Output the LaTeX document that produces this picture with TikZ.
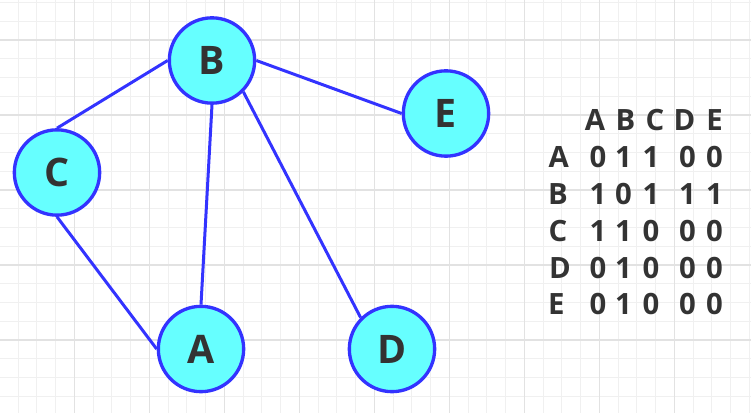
\documentclass[tikz,border=0pt]{standalone}
\usepackage{fontspec}
\setmainfont{Open Sans}
\usepackage{tikz}

\definecolor{nodecyan}{HTML}{66FFFF}
\definecolor{edgeblue}{HTML}{3333FF}
\definecolor{textgray}{HTML}{333333}
\definecolor{minorgrid}{HTML}{F0F0F0}
\definecolor{majorgrid}{HTML}{E2E2E2}

\tikzset{
  vertex/.style={circle, draw=edgeblue, fill=nodecyan, line width=2.5pt,
    minimum size=64pt, inner sep=0pt, text=textgray,
    font=\fontsize{29.5}{30}\selectfont\bfseries},
  edge/.style={draw=edgeblue, line width=2.25pt},
  cell/.style={anchor=base, inner sep=0pt, text=textgray,
    font=\fontsize{22}{24}\selectfont\bfseries},
}

\begin{document}
\begin{tikzpicture}[x=0.75pt,y=-0.75pt]

 \useasboundingbox (0,0) rectangle (751,413);
 \fill[white] (0,0) rectangle (751,413);
 % grid paper
 \foreach \k in {1,...,40} \draw[minorgrid, line width=0.75pt] ({-0.75+18.75*\k},0) -- ({-0.75+18.75*\k},413);
 \foreach \k in {0,...,21} \draw[minorgrid, line width=0.75pt] (0,{2.5+18.75*\k}) -- (751,{2.5+18.75*\k});
 \foreach \k in {1,...,9} \draw[majorgrid, line width=0.9pt] ({-0.75+75*\k},0) -- ({-0.75+75*\k},413);
 \foreach \k in {0,...,4} \draw[majorgrid, line width=0.9pt] (0,{40+75*\k}) -- (751,{40+75*\k});

 % the graph
 \node[vertex] (B) at (212,60.5) {B};
 \node[vertex] (C) at (57,172.5) {C};
 \node[vertex] (E) at (446,113.5) {E};
 \node[vertex] (A) at (201,349) {A};
 \node[vertex] (D) at (392,349) {D};

 \draw[edge] (B.west) -- (C.north);
 \draw[edge] (B.east) -- (E.west);
 \draw[edge] (B.south) -- (A.north);
 \draw[edge] (B.south east) -- (D.north west);
 \draw[edge] (C.south) -- (A.west);

 % adjacency matrix
 \foreach \h/\x [count=\j] in {A/595,B/625.5,C/655,D/684.5,E/714.5}
  \node[cell] (h\j) at (\x,131) {\h};
 \foreach \name/\lx/\vals [count=\i] in {A/558.8/{0,1,1,0,0}, B/558/{1,0,1,1,1},
   C/558/{1,1,0,0,0}, D/560/{0,1,0,0,0}, E/556.3/{0,1,0,0,0}} {
  \node[cell] (r\i) at (\lx,{131+36.8*\i}) {\name};
  \foreach \v [count=\j] in \vals {
   \pgfmathsetmacro\cx{{598,623.5,651,687.5,714.5}[\j-1]}
   \node[cell] (c\i\j) at (\cx,{131+36.8*\i}) {\v};
  }
 }

\end{tikzpicture}
\end{document}
